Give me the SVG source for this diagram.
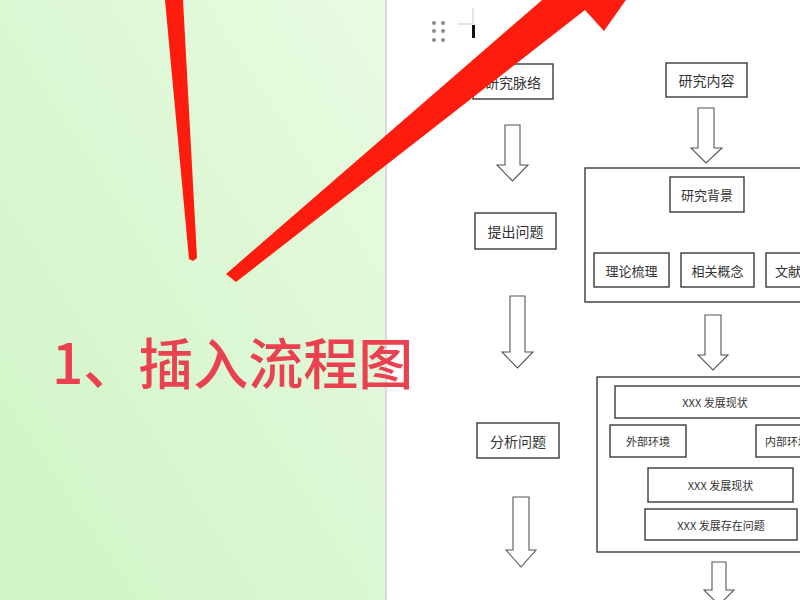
<svg xmlns="http://www.w3.org/2000/svg" width="800" height="600" viewBox="0 0 800 600">
<defs>
<linearGradient id="bg" x1="0" y1="1" x2="1" y2="0">
<stop offset="0" stop-color="#cff4c5"/>
<stop offset="0.6" stop-color="#def8d6"/>
<stop offset="1" stop-color="#e8fbe2"/>
</linearGradient>
<style>
.box{fill:#fff;stroke:#3a3a3a;stroke-width:1.4}
.frame{fill:none;stroke:#3a3a3a;stroke-width:1.4}
.t{font-family:"Noto Sans CJK SC","Liberation Sans",sans-serif;fill:#333;text-anchor:middle;dominant-baseline:central}
.t14{font-size:14px}
.t13{font-size:13px}
.t11{font-size:11px}
.harrow{fill:#fff;stroke:#555;stroke-width:1.1}
.red{fill:#fd1c0e}
.dot{fill:#8a8a8a}
</style>
</defs>
<rect x="0" y="0" width="800" height="600" fill="#fff"/>
<rect x="0" y="0" width="386" height="600" fill="url(#bg)"/>
<rect x="385" y="0" width="2" height="600" fill="#d6dad8"/>

<!-- editor handle and cursor -->
<g id="handle">
<circle class="dot" cx="434" cy="23" r="2"/><circle class="dot" cx="443" cy="23" r="2"/>
<circle class="dot" cx="434" cy="31" r="2"/><circle class="dot" cx="443" cy="31" r="2"/>
<circle class="dot" cx="434" cy="40" r="2"/><circle class="dot" cx="443" cy="40" r="2"/>
<line x1="473" y1="8" x2="473" y2="25" stroke="#bbb" stroke-width="0.8"/>
<line x1="458" y1="24" x2="472" y2="24" stroke="#bbb" stroke-width="0.8"/>
<rect x="472" y="25" width="3" height="13" fill="#111"/>
</g>

<!-- connectors: hollow block arrows -->
<g id="connectors">
<path class="harrow" d="M505 125 H520 V165 H528 L512.5 181 L497 165 H505 Z"/>
<path class="harrow" d="M510 296 H525 V352 H533 L517.5 368 L502 352 H510 Z"/>
<path class="harrow" d="M513 497 H529 V550 H536 L521 567 L506 550 H513 Z"/>
<path class="harrow" d="M698 108 H714 V148 H722 L706 163 L691 148 H698 Z"/>
<path class="harrow" d="M705 315 H721 V355 H728 L713 370 L698 355 H705 Z"/>
<path class="harrow" d="M712 562 H726 V590 H734 L719 605 L704 590 H712 Z"/>
</g>

<!-- left column -->
<g id="n-yanjiumailuo"><rect class="box" x="473" y="64" width="80" height="35"/><text class="t t14" x="513" y="82">研究脉络</text></g>
<g id="n-tichuwenti"><rect class="box" x="475" y="213" width="81" height="36"/><text class="t t14" x="515.5" y="231">提出问题</text></g>
<g id="n-fenxiwenti"><rect class="box" x="477" y="423" width="82" height="35"/><text class="t t14" x="518" y="440.5">分析问题</text></g>

<!-- right column -->
<g id="n-yanjiuneirong"><rect class="box" x="666" y="63" width="81" height="34"/><text class="t t14" x="706.5" y="80">研究内容</text></g>
<g id="g-frame1"><rect class="frame" x="585" y="168" width="230" height="134"/></g>
<g id="n-yanjiubeijing"><rect class="box" x="670" y="177" width="74" height="35"/><text class="t t13" x="707" y="194.5">研究背景</text></g>
<g id="n-lilunshuli"><rect class="box" x="594" y="253" width="75" height="34"/><text class="t t13" x="631.5" y="270">理论梳理</text></g>
<g id="n-xiangguangainian"><rect class="box" x="681" y="253" width="73" height="34"/><text class="t t13" x="717.5" y="270">相关概念</text></g>
<g id="n-wenxian"><rect class="box" x="766" y="253" width="50" height="34"/><text class="t t13" x="775" y="270" style="text-anchor:start">文献</text></g>

<g id="g-frame2"><rect class="frame" x="597" y="377" width="220" height="175"/></g>
<g id="n-xianzhuang1"><rect class="box" x="615" y="386" width="200" height="32"/><text class="t t11" x="715" y="402">XXX 发展现状</text></g>
<g id="n-waibu"><rect class="box" x="610" y="425" width="76" height="32"/><text class="t t11" x="648" y="441">外部环境</text></g>
<g id="n-neibu"><rect class="box" x="756" y="425" width="60" height="32"/><text class="t t11" x="765" y="441" style="text-anchor:start">内部环境</text></g>
<g id="n-xianzhuang2"><rect class="box" x="648" y="468" width="145" height="34"/><text class="t t11" x="720.5" y="485">XXX 发展现状</text></g>
<g id="n-wenti"><rect class="box" x="645" y="509" width="152" height="31"/><text class="t t11" x="721" y="525">XXX 发展存在问题</text></g>

<!-- red annotation -->
<g id="annotation">
<polygon class="red" points="165,0 183,0 197,258 193,261 189,259"/>
<polygon class="red" points="226,274 549,-6 556,-20 640,-20 604,31 585,10 236,282"/>
<text x="52" y="384" font-family="Noto Sans CJK SC, Liberation Sans, sans-serif" font-size="55" font-weight="500" fill="#ea4150">1、插入流程图</text>
</g>
</svg>
